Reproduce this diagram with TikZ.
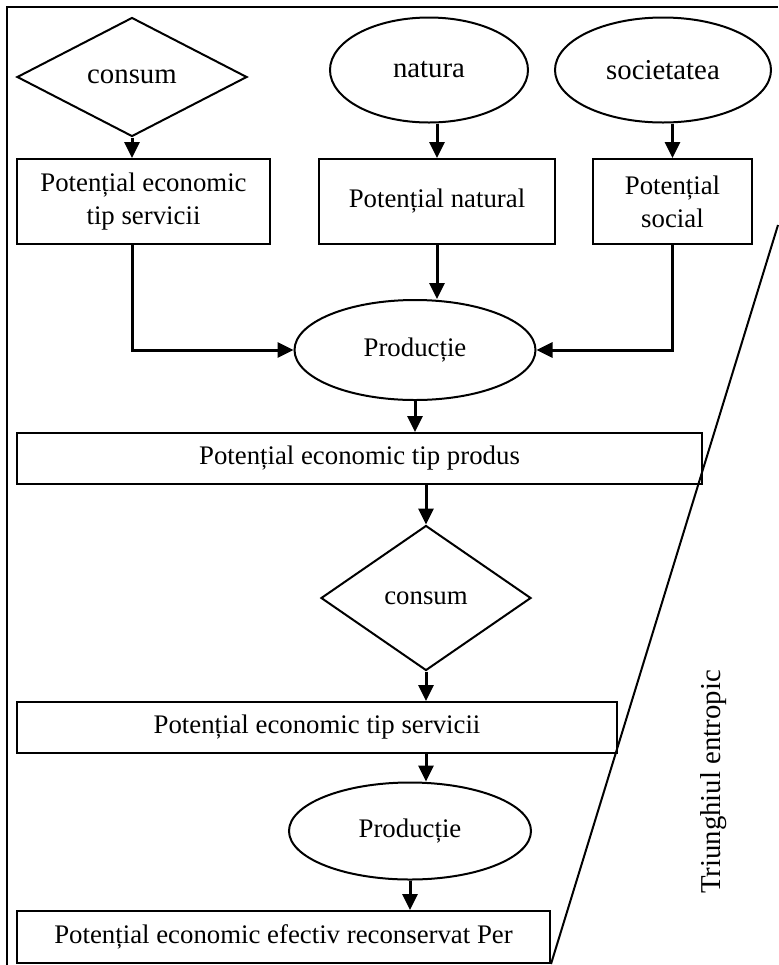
\documentclass[tikz,border=0pt]{standalone}
\usepackage{fontspec}
\setmainfont{Liberation Serif}
\usetikzlibrary{shapes.geometric,arrows.meta}
\begin{document}
\begin{tikzpicture}[x=0.5pt, y=-0.5pt,
    main/.style = {draw, line width=1pt, inner sep=1pt, align=center, font=\fontsize{13.4}{16.5}\selectfont},
    big/.style = {font=\fontsize{14.4}{16.5}\selectfont},
    box/.style = {main, rectangle, minimum height=25.5pt},
    oval/.style = {main, ellipse},
    rhomb/.style = {main, diamond},
    arr/.style = {line width=1.5pt, -{Triangle[length=8pt, width=7.5pt]}}]
    \useasboundingbox (0,0) rectangle (778,965);
    \draw[line width=1.2pt] (7,965) -- (7,7) -- (778,7);

    \node[rhomb, big, minimum width=115pt, minimum height=59.5pt] (1) at (132,77) {consum};
    \node[oval, big, minimum width=99pt, minimum height=52.5pt] (2) at (429,70) {natura};
    \node[oval, big, minimum width=108pt, minimum height=52.5pt] (3) at (663,70) {societatea};
    \node[box, minimum width=126.5pt, minimum height=42.5pt] (4) at (143.5,201.5) {Potențial economic\\tip servicii};
    \node[box, minimum width=118pt, minimum height=42.5pt] (5) at (437,201.5) {Potențial natural};
    \node[box, minimum width=79.5pt, minimum height=42.5pt] (6) at (672.5,201.5) {Potențial\\social};
    \node[oval, minimum width=120.5pt, minimum height=50pt] (7) at (415,350) {Producție};
    \node[box, minimum width=342.5pt] (8) at (359.5,458.5) {Potențial economic tip produs};
    \node[rhomb, minimum width=105pt, minimum height=72.5pt] (9) at (426,598) {consum};
    \node[box, minimum width=300pt] (10) at (317,727.5) {Potențial economic tip servicii};
    \node[oval, minimum width=121pt, minimum height=48.5pt] (11) at (410,831) {Producție};
    \node[box, minimum width=266.5pt, minimum height=26pt] (12) at (283.5,937) {Potențial economic efectiv reconservat Per};
    \node[big, rotate=90] (13) at (714,782) {Triunghiul entropic};
    \coordinate (t) at (778,225);

    \draw[arr] (1.south) -- (1.south |- 4.north);
    \draw[arr] (5.north |- 2.south) -- (5.north);
    \draw[arr] (6.north |- 3.south) -- (6.north);
    \draw[arr] (1.south |- 4.south) |- (7.west);
    \draw[arr] (5.south) -- (5.south |- 7.north);
    \draw[arr] (6.south) |- (7.east);
    \draw[arr] (7.south) -- (7.south |- 8.north);
    \draw[arr] (9.north |- 8.south) -- (9.north);
    \draw[arr] (9.south) -- (9.south |- 10.north);
    \draw[arr] (9.south |- 10.south) -- (9.south |- 11.north);
    \draw[arr] (11.south) -- (11.south |- 12.north);
    \draw[line width=1pt] (t) -- (12.south east);
\end{tikzpicture}
\end{document}
